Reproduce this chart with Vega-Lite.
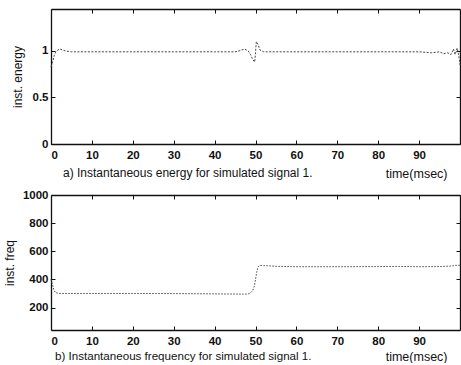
{
  "$schema": "https://vega.github.io/schema/vega-lite/v6.json",
  "padding": {"left": 3, "top": 8, "right": 0, "bottom": 0},
  "background": "white",
  "spacing": 9,
  "config": {
    "font": "Liberation Sans",
    "view": {"stroke": null},
    "axis": {
      "grid": false,
      "domainColor": "#111",
      "domainWidth": 1.3,
      "tickColor": "#111",
      "tickSize": -4,
      "tickWidth": 1,
      "labelFont": "Liberation Sans",
      "labelFontSize": 11.5,
      "labelFontWeight": "bold",
      "labelColor": "#111",
      "titleFont": "Liberation Sans",
      "titleFontSize": 12,
      "titleFontWeight": "normal",
      "titleColor": "#111"
    }
  },
  "datasets": {
    "energy": [
      {"t": 0, "v": 0.83}, {"t": 0.4, "v": 0.88}, {"t": 0.8, "v": 0.95}, {"t": 1.2, "v": 0.99},
      {"t": 1.7, "v": 1.01}, {"t": 2.2, "v": 1.02}, {"t": 2.8, "v": 1.01}, {"t": 3.5, "v": 1.0},
      {"t": 5, "v": 0.99}, {"t": 10, "v": 0.99}, {"t": 20, "v": 0.99}, {"t": 30, "v": 0.99},
      {"t": 40, "v": 0.99}, {"t": 45, "v": 0.99}, {"t": 46, "v": 1.0}, {"t": 47.3, "v": 1.02},
      {"t": 48.2, "v": 1.0}, {"t": 48.8, "v": 0.96}, {"t": 49.3, "v": 0.91}, {"t": 49.8, "v": 0.88},
      {"t": 50.0, "v": 0.98}, {"t": 50.2, "v": 1.1}, {"t": 50.6, "v": 1.07}, {"t": 51.1, "v": 1.01},
      {"t": 52, "v": 0.99}, {"t": 60, "v": 0.99}, {"t": 70, "v": 0.99}, {"t": 80, "v": 0.99},
      {"t": 90, "v": 0.99}, {"t": 93, "v": 0.98}, {"t": 95, "v": 0.99}, {"t": 96, "v": 0.97},
      {"t": 97, "v": 0.98}, {"t": 97.8, "v": 0.96}, {"t": 98.4, "v": 1.02}, {"t": 98.8, "v": 0.96},
      {"t": 99.3, "v": 1.03}, {"t": 99.7, "v": 0.95}, {"t": 100, "v": 0.85}
    ],
    "freq": [
      {"t": 0, "v": 400}, {"t": 0.3, "v": 370}, {"t": 0.7, "v": 325}, {"t": 1.1, "v": 305},
      {"t": 2, "v": 300}, {"t": 10, "v": 300}, {"t": 20, "v": 300}, {"t": 30, "v": 299},
      {"t": 40, "v": 297}, {"t": 47, "v": 295}, {"t": 48.2, "v": 296}, {"t": 48.8, "v": 305},
      {"t": 49.3, "v": 320}, {"t": 49.7, "v": 350}, {"t": 50.0, "v": 400}, {"t": 50.3, "v": 450},
      {"t": 50.6, "v": 488}, {"t": 51, "v": 500}, {"t": 52, "v": 498}, {"t": 55, "v": 493},
      {"t": 60, "v": 490}, {"t": 70, "v": 490}, {"t": 80, "v": 491}, {"t": 85, "v": 492},
      {"t": 90, "v": 490}, {"t": 95, "v": 491}, {"t": 98, "v": 495}, {"t": 99, "v": 500},
      {"t": 100, "v": 500}
    ]
  },
  "vconcat": [
    {
      "width": 409,
      "height": 135,
      "data": {"name": "energy"},
      "title": {
        "text": "a) Instantaneous energy for simulated signal 1.",
        "orient": "bottom",
        "anchor": "start",
        "frame": "group",
        "offset": 0,
        "dx": 12,
        "dy": -12,
        "fontSize": 12,
        "fontWeight": "normal",
        "color": "#111",
        "font": "Liberation Sans"
      },
      "layer": [
        {
          "mark": {"type": "line", "color": "#444", "strokeWidth": 1, "strokeDash": [2, 1.5]},
          "encoding": {
            "x": {"field": "t", "type": "quantitative", "scale": {"domain": [0, 100], "nice": false},
                  "axis": {"values": [0, 10, 20, 30, 40, 50, 60, 70, 80, 90], "title": "time(msec)",
                           "titleAlign": "right", "titleX": 396, "titleY": 33, "titleBaseline": "alphabetic",
                           "labelPadding": 9, "titleFontSize": 12.5}},
            "y": {"field": "v", "type": "quantitative", "scale": {"domain": [0, 1.45], "nice": false},
                  "axis": {"values": [0, 0.5, 1], "format": "~g", "title": "inst. energy",
                           "titleX": -27, "labelPadding": 7}}
          }
        },
        {
          "mark": {"type": "line", "opacity": 0},
          "encoding": {
            "x": {"field": "t", "type": "quantitative", "scale": {"domain": [0, 100], "nice": false},
                  "axis": {"orient": "top", "values": [0, 10, 20, 30, 40, 50, 60, 70, 80, 90], "labels": false, "title": null}},
            "y": {"field": "v", "type": "quantitative", "scale": {"domain": [0, 1.45], "nice": false},
                  "axis": {"orient": "right", "values": [0, 0.5, 1], "labels": false, "title": null}}
          }
        }
      ],
      "resolve": {"scale": {"x": "independent", "y": "independent"}}
    },
    {
      "width": 409,
      "height": 135,
      "data": {"name": "freq"},
      "title": {
        "text": "b) Instantaneous frequency for simulated signal 1.",
        "orient": "bottom",
        "anchor": "start",
        "frame": "group",
        "offset": 0,
        "dx": 4,
        "dy": -12,
        "fontSize": 11.6,
        "fontWeight": "normal",
        "color": "#111",
        "font": "Liberation Sans"
      },
      "layer": [
        {
          "mark": {"type": "line", "color": "#444", "strokeWidth": 1, "strokeDash": [1.5, 1.5]},
          "encoding": {
            "x": {"field": "t", "type": "quantitative", "scale": {"domain": [0, 100], "nice": false},
                  "axis": {"values": [0, 10, 20, 30, 40, 50, 60, 70, 80, 90], "title": "time(msec)",
                           "titleAlign": "right", "titleX": 396, "titleY": 30, "titleBaseline": "alphabetic",
                           "labelPadding": 9, "titleFontSize": 12.5}},
            "y": {"field": "v", "type": "quantitative", "scale": {"domain": [40, 1000], "nice": false},
                  "axis": {"values": [200, 400, 600, 800, 1000], "format": "d", "title": "inst. freq",
                           "titleX": -35, "labelPadding": 7}}
          }
        },
        {
          "mark": {"type": "line", "opacity": 0},
          "encoding": {
            "x": {"field": "t", "type": "quantitative", "scale": {"domain": [0, 100], "nice": false},
                  "axis": {"orient": "top", "values": [0, 10, 20, 30, 40, 50, 60, 70, 80, 90], "labels": false, "title": null}},
            "y": {"field": "v", "type": "quantitative", "scale": {"domain": [40, 1000], "nice": false},
                  "axis": {"orient": "right", "values": [200, 400, 600, 800, 1000], "labels": false, "title": null}}
          }
        }
      ],
      "resolve": {"scale": {"x": "independent", "y": "independent"}}
    }
  ]
}
